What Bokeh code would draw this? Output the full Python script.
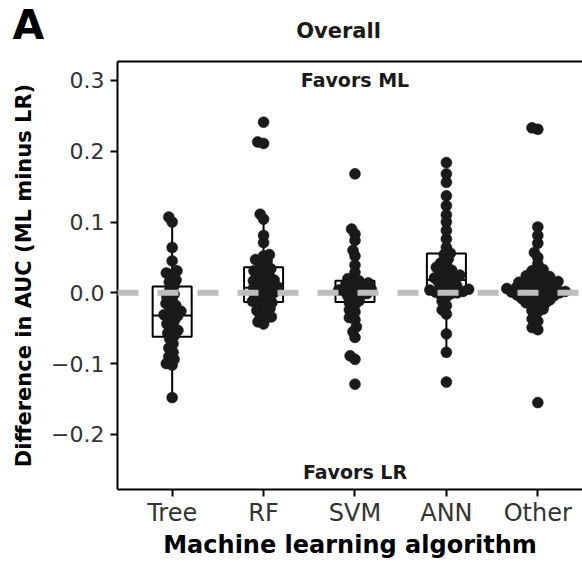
import numpy as np
from bokeh.plotting import figure
from bokeh.layouts import column
from bokeh.models import Range1d, FixedTicker, CustomJSTickFormatter, LinearAxis, Label, Span
from bokeh.core.properties import value
from bokeh.embed import file_html
from bokeh.resources import INLINE

categories = ["Tree", "RF", "SVM", "ANN", "Other"]

tree = [0.107, 0.100, 0.064, 0.045, 0.031, 0.028, 0.026, 0.018, 0.015, 0.010, 0.004,
        -0.002, -0.006, -0.010, -0.015, -0.018, -0.021, -0.026, -0.029, -0.031, -0.033,
        -0.036, -0.040, -0.044, -0.048, -0.053, -0.057, -0.060, -0.065, -0.072, -0.078,
        -0.084, -0.090, -0.094, -0.100, -0.102, -0.148]
rf = [0.241, 0.213, 0.211, 0.111, 0.104, 0.081, 0.071, 0.054, 0.052, 0.047, 0.045, 0.042,
      0.037, 0.034, 0.031, 0.029, 0.026, 0.024, 0.020, 0.018, 0.017, 0.016, 0.014,
      0.010, 0.008, 0.007, 0.005, 0.003, 0.001, -0.001, -0.003, -0.005, -0.007,
      -0.010, -0.012, -0.014, -0.016, -0.018, -0.022, -0.025, -0.027,
      -0.032, -0.034, -0.036, -0.041, -0.044]
svm = [0.168, 0.090, 0.083, 0.074, 0.060, 0.052, 0.039, 0.029,
       0.020, 0.017, 0.015, 0.014, 0.012, 0.010, 0.009, 0.007,
       0.005, 0.004, 0.002, 0.001, -0.001, -0.003, -0.005,
       -0.008, -0.011, -0.014, -0.017, -0.024, -0.027, -0.035, -0.038,
       -0.048, -0.055, -0.063, -0.089, -0.094, -0.129]
ann = [0.184, 0.168, 0.156, 0.137, 0.123, 0.110, 0.100, 0.088, 0.076, 0.064, 0.056, 0.054,
       0.048, 0.042, 0.040, 0.036, 0.032, 0.030, 0.028, 0.025, 0.021, 0.020, 0.019, 0.018,
       0.015, 0.012, 0.010, 0.008, 0.007, 0.005, 0.004, 0.003, 0.002, 0.001, 0.000,
       -0.001, -0.003, -0.006, -0.012, -0.018, -0.024, -0.030, -0.058, -0.084, -0.126]
other = [0.233, 0.231, 0.093, 0.081, 0.070, 0.057, 0.050, 0.041,
         0.033, 0.031, 0.029,
         0.024, 0.023, 0.022, 0.021, 0.020,
         0.016, 0.015, 0.015, 0.014, 0.013, 0.012,
         0.009, 0.008, 0.007, 0.006, 0.006, 0.005, 0.004, 0.004,
         0.002, 0.001, 0.000, 0.000, -0.001, -0.002, -0.003, -0.004,
         -0.006, -0.007, -0.008, -0.009, -0.010,
         -0.014, -0.015, -0.016, -0.017,
         -0.023, -0.025, -0.027,
         -0.037, -0.040, -0.049, -0.052, -0.155]
groups = [tree, rf, svm, ann, other]

# box statistics
box_q1 = [-0.062, -0.013, -0.013, -0.002, -0.008]
box_med = [-0.032, 0.007, 0.003, 0.018, 0.002]
box_q3 = [0.009, 0.036, 0.017, 0.0555, 0.012]
whisk_lo = [-0.148, -0.044, -0.063, -0.084, -0.040]
whisk_hi = [0.107, 0.111, 0.060, 0.137, 0.041]

y_ticks = [-0.2, -0.1, 0.0, 0.1, 0.2, 0.3]

panel_letter = "A"
panel_title = "Overall"

FONT = "DejaVu Sans"
W = 582
HH = 50          # header strip height
H = 563 - HH     # main figure height
BL, BR, BT, BB = 117, 0, 11, 74
x0, x1 = 0.402, 5.489
y0, y1 = -0.2778, 0.3267
FW, FH = W - BL - BR, H - BT - BB
px_x = FW / (x1 - x0)
px_y = FH / (y1 - y0)

DOT = 11.0
SEP = 6.0


def swarm(vals):
    ys = np.asarray(vals) * px_y
    order = np.argsort(ys, kind="stable")
    placed = []
    xs = np.zeros(len(ys))
    for i in order:
        y = ys[i]
        ivs = []
        for xj, yj in placed:
            dy = abs(y - yj)
            if dy < SEP:
                w = np.sqrt(SEP * SEP - dy * dy)
                ivs.append((xj - w, xj + w))
        cands = [0.0] + [a for a, b in ivs] + [b for a, b in ivs]
        cands.sort(key=lambda c: (abs(c), c))
        chosen = 0.0
        for c in cands:
            if all(not (a + 1e-6 < c < b - 1e-6) for a, b in ivs):
                chosen = c
                break
        xs[i] = chosen
        placed.append((chosen, y))
    return xs / px_x


# ---- header strip with panel letter and title ----
hdr = figure(width=W, height=HH, x_range=Range1d(0, W), y_range=Range1d(0, HH),
             output_backend="svg", toolbar_location=None, title=None,
             x_axis_location=None, y_axis_location=None, min_border=0,
             frame_align=False)
hdr.outline_line_color = None
hdr.grid.visible = False
hdr.background_fill_color = "white"
hdr.border_fill_color = "white"
hdr.text(x=[12], y=[26], text=[panel_letter], text_font=value(FONT), text_font_size="41px",
         text_font_style="bold", text_align="left", text_baseline="alphabetic",
         text_color="black")
hdr.text(x=[338], y=[20], text=[panel_title], text_font=value(FONT), text_font_size="21px",
         text_font_style="bold", text_align="center", text_baseline="alphabetic",
         text_color="#1a1a1a")

# ---- main plot ----
p = figure(width=W, height=H, x_range=Range1d(x0, x1), y_range=Range1d(y0, y1),
           output_backend="svg", toolbar_location=None, title=None, frame_align=False,
           min_border_left=BL, min_border_right=BR, min_border_top=BT, min_border_bottom=BB)
p.outline_line_color = None
p.xgrid.visible = False
p.ygrid.visible = False
p.background_fill_color = "white"
p.border_fill_color = "white"

for ax in (p.xaxis[0], p.yaxis[0]):
    ax.axis_line_width = 2
    ax.axis_line_color = "black"
    ax.major_tick_line_width = 2
    ax.major_tick_line_color = "black"
    ax.major_tick_out = 7
    ax.major_tick_in = 0
    ax.minor_tick_line_color = None
    ax.major_label_text_font = FONT
    ax.major_label_text_color = "#333333"
    ax.axis_label_text_font = FONT
    ax.axis_label_text_font_style = "bold"
    ax.axis_label_text_color = "black"

p.xaxis.ticker = FixedTicker(ticks=list(range(1, len(categories) + 1)))
p.xaxis.major_label_overrides = {i + 1: c for i, c in enumerate(categories)}
p.xaxis.major_label_text_font_size = "24px"
p.xaxis.major_label_standoff = 2
p.xaxis.axis_label = "Machine learning algorithm"
p.xaxis.axis_label_text_font_size = "24px"
p.xaxis.axis_label_standoff = 1

p.yaxis.ticker = FixedTicker(ticks=y_ticks)
p.yaxis.formatter = CustomJSTickFormatter(
    code="return (tick < -1e-9 ? '\\u2212' : '') + Math.abs(tick).toFixed(1);")
p.yaxis.major_label_text_font_size = "22px"
p.yaxis.major_label_standoff = 6
p.yaxis.axis_label = "Difference in AUC (ML minus LR)"
p.yaxis.axis_label_text_font_size = "21px"
p.yaxis.axis_label_standoff = 12

top = LinearAxis(ticker=FixedTicker(ticks=[]), axis_line_width=2, axis_line_color="black",
                 major_tick_line_color=None, minor_tick_line_color=None,
                 major_tick_out=0, major_tick_in=0, major_label_standoff=0,
                 major_label_text_font_size="0px")
p.add_layout(top, "above")

BOXW = 0.427
for i, vals in enumerate(groups):
    cx = i + 1
    p.segment(x0=[cx, cx], y0=[box_q3[i], box_q1[i]], x1=[cx, cx], y1=[whisk_hi[i], whisk_lo[i]],
              line_color="black", line_width=2)
    p.quad(left=[cx - BOXW / 2], right=[cx + BOXW / 2], top=[box_q3[i]], bottom=[box_q1[i]],
           fill_color=None, line_color="black", line_width=2)
    p.segment(x0=[cx - BOXW / 2], x1=[cx + BOXW / 2], y0=[box_med[i]], y1=[box_med[i]],
              line_color="black", line_width=2)

for i, vals in enumerate(groups):
    xs = (i + 1) + swarm(vals)
    p.scatter(x=xs, y=vals, size=DOT, fill_color="#1a1a1a", line_color="#1a1a1a", line_width=0.5)

p.add_layout(Span(location=0.0, dimension="width", line_color="#BEBEBE", line_width=6,
                  line_dash="21 19"))


def add_text(x, y, text, size):
    p.add_layout(Label(x=x, y=y, text=text, text_font=FONT, text_font_size=size,
                       text_font_style="bold", text_align="center", text_baseline="middle",
                       text_color="#1a1a1a"))


add_text(3.0, 0.300, "Favors ML", "19px")
add_text(3.0, -0.2524, "Favors LR", "19px")

layout = column(hdr, p, spacing=0)
open("out.html", "w").write(file_html(layout, INLINE))
